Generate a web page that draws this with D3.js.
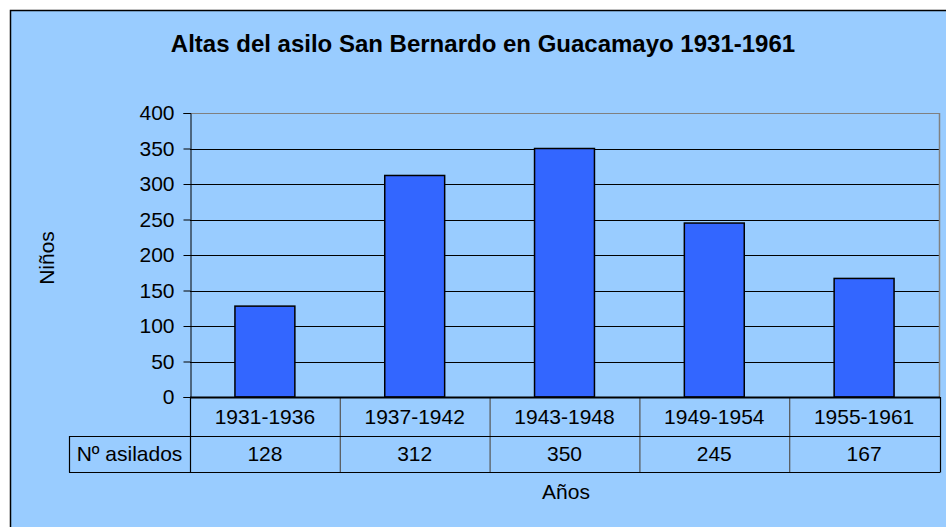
<!DOCTYPE html>
<html lang="es">
<head>
<meta charset="UTF-8">
<title>Altas del asilo San Bernardo en Guacamayo 1931-1961</title>
<style>
  body, html { margin: 0; padding: 0; background: #fff; }
  svg { display: block; font-family: Arial, "Liberation Sans", sans-serif; }
</style>
<script src="https://d3js.org/d3.v7.min.js"></script>
</head>
<body>
<svg id="chart" width="946" height="527"></svg>
<script>
const periods = ["1931-1936", "1937-1942", "1943-1948", "1949-1954", "1955-1961"];
const asilados = [128, 312, 350, 245, 167];
const yTicks = [0, 50, 100, 150, 200, 250, 300, 350, 400];
const seriesName = "Nº asilados";

const svg = d3.select("#chart");
const W = 946, H = 527;
const FS = 21; // label font size

// chart area background + frame (frame runs off right/bottom edge)
svg.append("rect").attr("width", W).attr("height", H).attr("fill", "#fff");
svg.append("rect")
    .attr("x", 10.5).attr("y", 10.5)
    .attr("width", 1000).attr("height", 1000)
    .attr("fill", "#99CCFF").attr("stroke", "#000").attr("stroke-width", 1.5);

const plot = { left: 190, right: 939, top: 113, bottom: 397 };

const x = d3.scaleBand().domain(periods).range([plot.left, plot.right]).paddingInner(0).paddingOuter(0);
const y = d3.scaleLinear().domain([0, 400]).range([plot.bottom, plot.top]);

// gridlines
svg.append("g").selectAll("line")
    .data(yTicks.filter(d => d > 0))
    .join("line")
    .attr("x1", plot.left).attr("x2", plot.right)
    .attr("y1", d => Math.round(y(d)) + 0.5).attr("y2", d => Math.round(y(d)) + 0.5)
    .attr("stroke", d => d === 400 ? "#808080" : "#000")
    .attr("stroke-width", 1);

// right border of plot area
svg.append("line")
    .attr("x1", plot.right + 0.5).attr("x2", plot.right + 0.5)
    .attr("y1", plot.top).attr("y2", plot.bottom)
    .attr("stroke", "#808080").attr("stroke-width", 1.5);

// y axis
const yAxis = d3.axisLeft(y).tickValues(yTicks).tickSize(7).tickPadding(9);
const gy = svg.append("g").attr("transform", `translate(${plot.left + 0.5},0)`).call(yAxis);
gy.select(".domain").attr("stroke", "#000");
gy.selectAll(".tick line").attr("stroke", "#000");
gy.selectAll(".tick text").attr("font-size", FS).attr("fill", "#000")
    .attr("font-family", "Arial, 'Liberation Sans', sans-serif");

// bars
const barW = x.bandwidth() * 0.4;
svg.append("g").selectAll("rect")
    .data(periods)
    .join("rect")
    .attr("x", (d) => x(d) + (x.bandwidth() - barW) / 2)
    .attr("y", (d, i) => y(asilados[i]))
    .attr("width", barW)
    .attr("height", (d, i) => plot.bottom - y(asilados[i]))
    .attr("fill", "#3366FF")
    .attr("stroke", "#000").attr("stroke-width", 1.5);

// data table
const row1 = { top: plot.bottom, bottom: 436 };
const row2 = { top: 436, bottom: 472 };
const legendLeft = 69;
const table = svg.append("g");

// inner vertical separators (gray)
table.selectAll("line.sep")
    .data(periods.slice(1))
    .join("line")
    .attr("class", "sep")
    .attr("x1", d => x(d) + 0.5).attr("x2", d => x(d) + 0.5)
    .attr("y1", row1.top).attr("y2", row2.bottom)
    .attr("stroke", "#555").attr("stroke-width", 1.2);

// horizontal lines
table.append("line").attr("x1", plot.left).attr("x2", plot.right + 1)
    .attr("y1", plot.bottom + 0.5).attr("y2", plot.bottom + 0.5)
    .attr("stroke", "#000").attr("stroke-width", 2);
table.append("line").attr("x1", legendLeft).attr("x2", plot.right + 1)
    .attr("y1", row2.top + 0.5).attr("y2", row2.top + 0.5)
    .attr("stroke", "#000").attr("stroke-width", 1.2);
table.append("line").attr("x1", legendLeft).attr("x2", plot.right + 1)
    .attr("y1", row2.bottom + 0.5).attr("y2", row2.bottom + 0.5)
    .attr("stroke", "#000").attr("stroke-width", 1.2);
// outer verticals
[[legendLeft, row2.top, row2.bottom], [plot.left, row1.top, row2.bottom], [plot.right + 0.5, row1.top, row2.bottom]]
    .forEach(([xx, y1, y2]) => {
        table.append("line").attr("x1", Math.round(xx) + 0.5).attr("x2", Math.round(xx) + 0.5)
            .attr("y1", y1).attr("y2", y2 + 0.5)
            .attr("stroke", "#000").attr("stroke-width", 1.2);
    });

// category labels
table.selectAll("text.cat")
    .data(periods)
    .join("text")
    .attr("class", "cat")
    .attr("x", d => x(d) + x.bandwidth() / 2)
    .attr("y", (row1.top + row1.bottom) / 2 + 7)
    .attr("text-anchor", "middle")
    .attr("font-size", FS)
    .text(d => d);

// values
table.selectAll("text.val")
    .data(asilados)
    .join("text")
    .attr("class", "val")
    .attr("x", (d, i) => x(periods[i]) + x.bandwidth() / 2)
    .attr("y", (row2.top + row2.bottom) / 2 + 7)
    .attr("text-anchor", "middle")
    .attr("font-size", FS)
    .text(d => d);

table.append("text")
    .attr("x", (legendLeft + plot.left) / 2)
    .attr("y", (row2.top + row2.bottom) / 2 + 7)
    .attr("text-anchor", "middle")
    .attr("font-size", FS)
    .text(seriesName);

// title and axis titles
svg.append("text")
    .attr("x", 483).attr("y", 52)
    .attr("text-anchor", "middle")
    .attr("font-size", 24).attr("font-weight", "bold")
    .text("Altas del asilo San Bernardo en Guacamayo 1931-1961");

svg.append("text")
    .attr("x", 566).attr("y", 499)
    .attr("text-anchor", "middle")
    .attr("font-size", FS)
    .text("Años");

svg.append("text")
    .attr("transform", "translate(54,258) rotate(-90)")
    .attr("text-anchor", "middle")
    .attr("font-size", FS)
    .text("Niños");
</script>
</body>
</html>
